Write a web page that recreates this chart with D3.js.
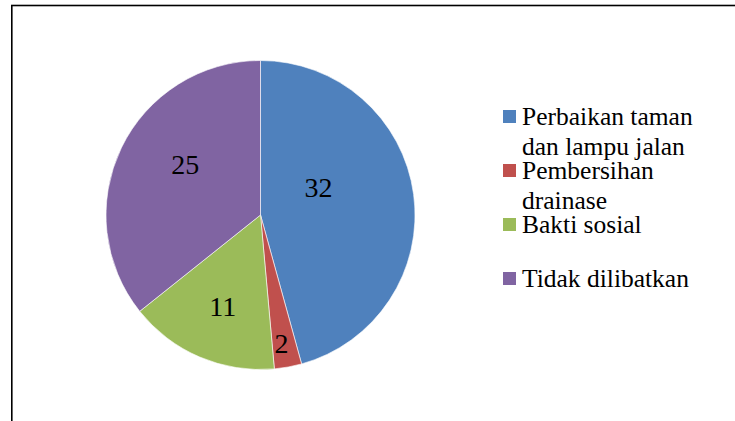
<!DOCTYPE html>
<html>
<head>
<meta charset="utf-8">
<script src="https://cdn.jsdelivr.net/npm/d3@7"></script>
<style>
  body { margin: 0; background: #fff; }
</style>
</head>
<body>
<svg width="735" height="421"></svg>
<script>
// chart data
let categories = ["Perbaikan taman dan lampu jalan", "Pembersihan drainase", "Bakti sosial", "Tidak dilibatkan"];
let legendLines = [["Perbaikan taman", "dan lampu jalan"], ["Pembersihan", "drainase"], ["Bakti sosial"], ["Tidak dilibatkan"]];
let values = [32, 2, 11, 25];
let colors = ["#4F81BD", "#C0504D", "#9BBB59", "#8064A2"];

// label placement (Excel "best fit" is not a plain centroid)
let labelNudge = [[-37, -15], [4, 34], [0, 3], [11, -9]];
let serif = "Liberation Serif";

var svg = d3.select("svg"),
    width = +svg.attr("width"),
    height = +svg.attr("height");

function translate(x, y) {
    return `translate(${x},${y})`;
}

// chart frame, runs off the right and bottom edge
svg.append("rect")
    .attr("x", 11.8).attr("y", 5.5)
    .attr("width", 900).attr("height", 600)
    .attr("fill", "none")
    .attr("stroke", "#000")
    .attr("stroke-width", 1.6);

let rows = categories.map((c, i) => ({ name: c, value: values[i], color: colors[i], i: i }));

let cx = 260.5, cy = 215, r = 154.5;
let g = svg.append("g").attr("transform", translate(cx, cy));

let pie = d3.pie().sort(null).value(d => d.value);
let arc = d3.arc().innerRadius(0).outerRadius(r);
let labelArc = d3.arc().innerRadius(r * 0.62).outerRadius(r * 0.62);

let arcs = pie(rows);

g.selectAll("path")
    .data(arcs)
    .enter()
    .append("path")
    .attr("d", arc)
    .attr("fill", d => d.data.color)
    .attr("stroke", "#fff")
    .attr("stroke-width", 0.6);

g.selectAll("text.label")
    .data(arcs)
    .enter()
    .append("text")
    .attr("class", "label")
    .attr("transform", d => {
        let c = labelArc.centroid(d);
        let n = labelNudge[d.data.i];
        return translate(c[0] + n[0], c[1] + n[1]);
    })
    .attr("dy", "0.34em")
    .attr("text-anchor", "middle")
    .attr("font-family", serif)
    .attr("font-size", 28)
    .text(d => d.data.value);

// legend
let ly = d3.scalePoint().domain(categories).range([125, 287]);
let legend = svg.append("g").attr("class", "legend");

let items = legend.selectAll("g")
    .data(rows)
    .enter()
    .append("g")
    .attr("transform", d => translate(503, ly(d.name)));

items.append("rect")
    .attr("x", 0).attr("y", -15)
    .attr("width", 13).attr("height", 13)
    .attr("fill", d => d.color);

items.append("text")
    .attr("x", 19)
    .attr("font-family", serif)
    .attr("font-size", 25.5)
    .selectAll("tspan")
    .data(d => legendLines[d.i])
    .enter()
    .append("tspan")
    .attr("x", 19)
    .attr("dy", (d, i) => i === 0 ? 0 : 29.5)
    .text(d => d);
</script>
</body>
</html>
